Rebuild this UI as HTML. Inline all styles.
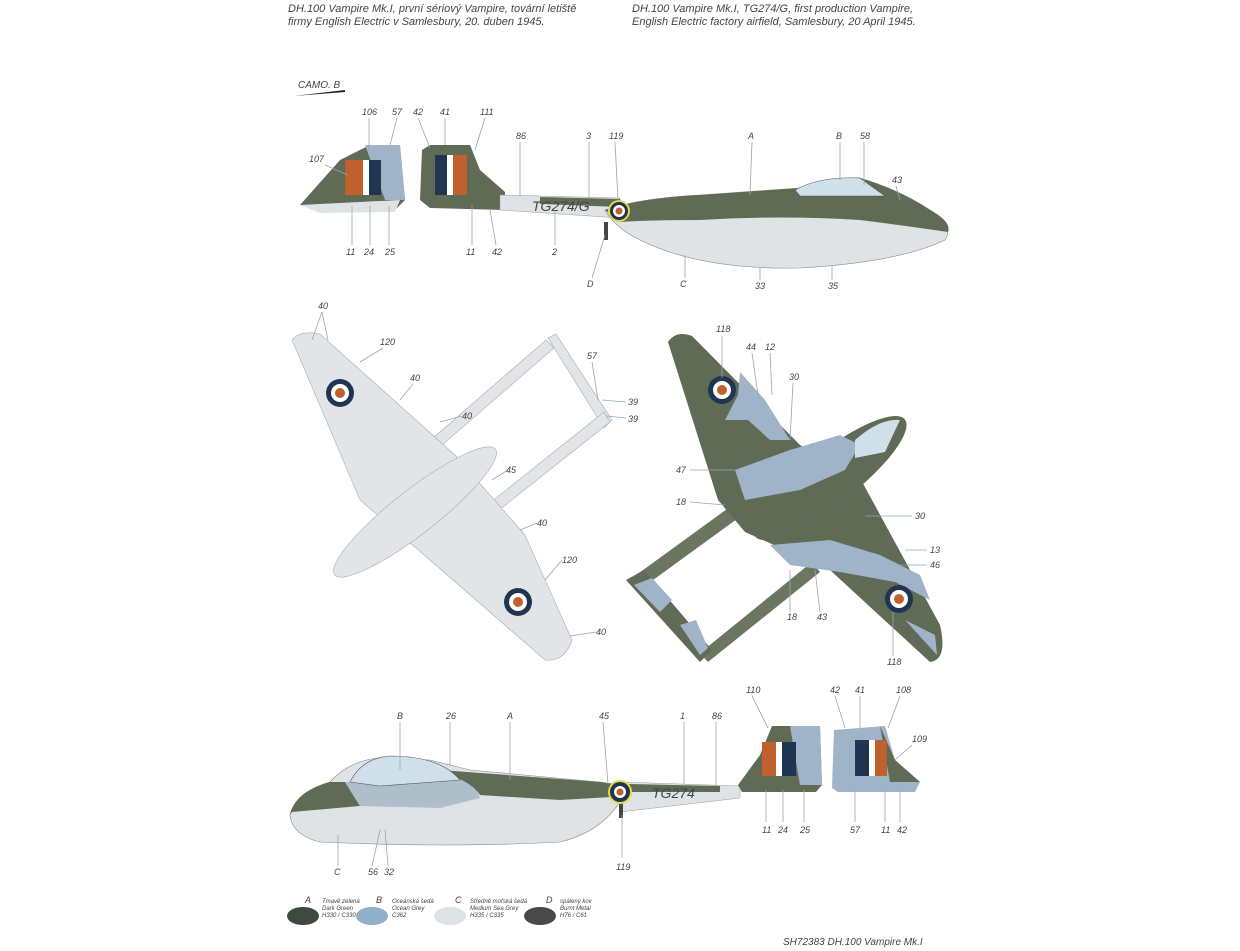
<!DOCTYPE html>
<html><head><meta charset="utf-8"><style>
body{margin:0;background:#fff;width:1240px;height:951px;overflow:hidden}
svg{display:block}
text{font-family:"Liberation Sans",sans-serif;font-style:italic;fill:#444}
.n{font-size:9px}
.l line,.l path{stroke:#8fa8b8;stroke-width:0.8;fill:none}
</style></head><body>
<svg width="1240" height="951" viewBox="0 0 1240 951">
<text x="288" y="12" font-size="11">DH.100 Vampire Mk.I, první sériový Vampire, tovární letiště</text>
<text x="288" y="25" font-size="11">firmy English Electric v Samlesbury, 20. duben 1945.</text>
<text x="632" y="12" font-size="11">DH.100 Vampire Mk.I, TG274/G, first production Vampire,</text>
<text x="632" y="25" font-size="11">English Electric factory airfield, Samlesbury, 20 April 1945.</text>
<text x="298" y="88" font-size="10">CAMO. B</text>
<path d="M294 96 L345 90 L345 92 Z" fill="#222"/>

<!-- Top side view -->
<g>
<path d="M300 205 L340 160 L370 145 L400 145 L405 200 L395 210 L320 212 Z" fill="#5f6b55"/>
<path d="M365 145 L400 145 L405 200 L385 200 Z" fill="#9fb4c8"/>
<path d="M300 205 L400 200 L395 212 L320 213 Z" fill="#dfe3e6"/>
<rect x="345" y="160" width="18" height="35" fill="#c0602e"/><rect x="363" y="160" width="6" height="35" fill="#fff"/><rect x="369" y="160" width="12" height="35" fill="#1f3550"/>
<path d="M420 200 L422 150 L430 145 L470 145 L480 170 L505 192 L505 210 L430 208 Z" fill="#5f6b55"/>
<rect x="435" y="155" width="12" height="40" fill="#1f3550"/><rect x="447" y="155" width="6" height="40" fill="#fff"/><rect x="453" y="155" width="14" height="40" fill="#c0602e"/>
<path d="M500 195 L620 198 L620 218 L500 210 Z" fill="#dfe3e6" stroke="#999" stroke-width="0.5"/>
<path d="M540 197 L620 199 L620 207 L540 204 Z" fill="#5f6b55"/>
<text x="532" y="211" font-size="14" font-style="normal" fill="#333">TG274/G</text>
<path d="M605 210 Q640 198 700 195 L800 188 Q820 178 860 178 Q900 190 930 210 Q955 225 945 240 Q900 262 800 268 Q700 270 640 240 Q615 228 605 210 Z" fill="#dfe3e6" stroke="#888" stroke-width="0.6"/>
<path d="M605 210 Q640 198 700 195 L800 188 Q820 178 860 178 Q900 190 930 210 Q952 222 948 232 Q900 225 860 220 Q780 215 700 220 Q650 220 620 222 Z" fill="#5f6b55"/>
<path d="M795 190 Q820 176 860 178 L885 196 L800 196 Z" fill="#cfe0ea" stroke="#555" stroke-width="0.6"/>
<rect x="604" y="222" width="4" height="18" fill="#444"/>
<circle cx="619" cy="211" r="11" fill="#e6d84a"/><circle cx="619" cy="211" r="9" fill="#1f3550"/><circle cx="619" cy="211" r="6" fill="#fff"/><circle cx="619" cy="211" r="3.5" fill="#c0602e"/>
</g>
<g class="l">
<line x1="369" y1="118" x2="369" y2="150"/><line x1="397" y1="118" x2="390" y2="145"/><line x1="418" y1="118" x2="430" y2="148"/><line x1="445" y1="118" x2="445" y2="145"/><line x1="485" y1="118" x2="475" y2="150"/>
<line x1="520" y1="142" x2="520" y2="196"/><line x1="589" y1="142" x2="589" y2="198"/><line x1="615" y1="142" x2="618" y2="200"/><line x1="752" y1="142" x2="750" y2="195"/><line x1="840" y1="142" x2="840" y2="180"/><line x1="864" y1="142" x2="864" y2="185"/><line x1="896" y1="186" x2="900" y2="200"/>
<line x1="325" y1="165" x2="348" y2="175"/>
<line x1="352" y1="206" x2="352" y2="245"/><line x1="370" y1="206" x2="370" y2="245"/><line x1="389" y1="206" x2="389" y2="245"/><line x1="472" y1="205" x2="472" y2="245"/><line x1="490" y1="210" x2="496" y2="245"/><line x1="555" y1="212" x2="555" y2="245"/>
<line x1="605" y1="235" x2="592" y2="278"/><line x1="685" y1="255" x2="685" y2="278"/><line x1="760" y1="268" x2="760" y2="280"/><line x1="832" y1="266" x2="832" y2="280"/>
</g>
<g class="n">
<text x="362" y="115">106</text><text x="392" y="115">57</text><text x="413" y="115">42</text><text x="440" y="115">41</text><text x="480" y="115">111</text>
<text x="516" y="139">86</text><text x="586" y="139">3</text><text x="609" y="139">119</text><text x="748" y="139">A</text><text x="836" y="139">B</text><text x="860" y="139">58</text><text x="892" y="183">43</text>
<text x="309" y="162">107</text>
<text x="346" y="255">11</text><text x="364" y="255">24</text><text x="385" y="255">25</text><text x="466" y="255">11</text><text x="492" y="255">42</text><text x="552" y="255">2</text>
<text x="587" y="287">D</text><text x="680" y="287">C</text><text x="755" y="289">33</text><text x="828" y="289">35</text>
</g>

<!-- underside plan view (left) -->
<g fill="#e2e5e7" stroke="#aab" stroke-width="0.6">
<path d="M548 338 L556 334 L612 420 L604 428 Z"/>
<path d="M396 470 L546 340 L554 348 L404 478 Z"/>
<path d="M456 530 L604 412 L610 422 L464 538 Z"/>
<path d="M292 340 Q300 330 320 334 L455 455 L525 535 L572 640 Q565 662 545 660 L430 560 L360 500 Z"/>
<ellipse cx="415" cy="512" rx="102" ry="22" transform="rotate(-38 415 512)"/>
</g>
<circle cx="340" cy="393" r="14" fill="#1f3550"/><circle cx="340" cy="393" r="9" fill="#fff"/><circle cx="340" cy="393" r="5" fill="#c0602e"/>
<circle cx="518" cy="602" r="14" fill="#1f3550"/><circle cx="518" cy="602" r="9" fill="#fff"/><circle cx="518" cy="602" r="5" fill="#c0602e"/>
<g class="l">
<line x1="322" y1="312" x2="312" y2="340"/><line x1="322" y1="312" x2="328" y2="340"/><line x1="383" y1="348" x2="360" y2="362"/><line x1="413" y1="384" x2="400" y2="400"/><line x1="462" y1="416" x2="440" y2="422"/>
<line x1="508" y1="470" x2="492" y2="480"/><line x1="537" y1="523" x2="520" y2="530"/><line x1="562" y1="560" x2="545" y2="580"/><line x1="596" y1="632" x2="570" y2="636"/>
<line x1="592" y1="362" x2="598" y2="400"/><line x1="626" y1="402" x2="602" y2="400"/><line x1="626" y1="418" x2="606" y2="416"/>
</g>
<g class="n">
<text x="318" y="309">40</text><text x="380" y="345">120</text><text x="410" y="381">40</text><text x="462" y="419">40</text><text x="506" y="473">45</text><text x="537" y="526">40</text><text x="562" y="563">120</text><text x="596" y="635">40</text>
<text x="587" y="359">57</text><text x="628" y="405">39</text><text x="628" y="422">39</text>
</g>

<!-- top plan view (right) -->
<g>
<path d="M632 578 L760 485 L770 495 L642 588 Z" fill="#6a7660"/>
<path d="M700 653 L812 562 L820 572 L708 662 Z" fill="#6a7660"/>
<path d="M626 580 L644 570 L712 650 L700 662 Z" fill="#5f6b55"/>
<path d="M634 585 L652 578 L672 600 L660 612 Z M680 625 L696 620 L708 648 L700 655 Z" fill="#9fb4c8"/>
<path d="M668 342 Q676 330 692 336 L800 445 L860 478 L940 625 Q948 660 930 662 L830 570 L745 532 L718 500 Z" fill="#5f6b55"/>
<ellipse cx="830" cy="478" rx="95" ry="26" transform="rotate(-38 830 478)" fill="#5f6b55"/>
<path d="M740 372 L765 400 L790 440 L770 440 L748 420 L725 420 L738 395 Z" fill="#9fb4c8"/>
<path d="M735 470 L790 450 L840 435 L860 445 L845 470 L800 490 L745 500 Z" fill="#9fb4c8"/>
<path d="M770 545 L830 540 L880 555 L920 575 L930 600 L895 582 L840 572 L790 565 Z" fill="#9fb4c8"/>
<path d="M905 620 L935 635 L937 655 Z" fill="#9fb4c8"/>
<path d="M855 440 Q880 418 900 420 L885 452 L855 458 Z" fill="#cfe0ea"/>
<circle cx="722" cy="390" r="14" fill="#1f3550"/><circle cx="722" cy="390" r="9" fill="#fff"/><circle cx="722" cy="390" r="5" fill="#c0602e"/>
<circle cx="899" cy="599" r="14" fill="#1f3550"/><circle cx="899" cy="599" r="9" fill="#fff"/><circle cx="899" cy="599" r="5" fill="#c0602e"/>
</g>
<g class="l">
<line x1="722" y1="336" x2="722" y2="378"/><line x1="752" y1="353" x2="758" y2="395"/><line x1="770" y1="353" x2="772" y2="395"/><line x1="793" y1="383" x2="790" y2="440"/>
<line x1="690" y1="470" x2="735" y2="470"/><line x1="690" y1="502" x2="725" y2="505"/><line x1="912" y1="516" x2="865" y2="516"/><line x1="927" y1="550" x2="905" y2="550"/><line x1="927" y1="565" x2="900" y2="565"/>
<line x1="790" y1="612" x2="790" y2="570"/><line x1="820" y1="612" x2="815" y2="570"/><line x1="893" y1="656" x2="893" y2="612"/>
</g>
<g class="n">
<text x="716" y="332">118</text><text x="746" y="350">44</text><text x="765" y="350">12</text><text x="789" y="380">30</text>
<text x="676" y="473">47</text><text x="676" y="505">18</text><text x="915" y="519">30</text><text x="930" y="553">13</text><text x="930" y="568">46</text>
<text x="787" y="620">18</text><text x="817" y="620">43</text><text x="887" y="665">118</text>
</g>

<!-- bottom side view -->
<g>
<path d="M620 782 L740 786 L740 798 L620 812 Z" fill="#dfe3e6" stroke="#999" stroke-width="0.5"/>
<path d="M290 815 Q295 792 330 782 Q350 760 380 758 L430 760 L470 770 L600 782 L628 786 Q610 830 560 842 Q450 848 320 842 Q292 835 290 815 Z" fill="#dfe3e6" stroke="#888" stroke-width="0.6"/>
<path d="M290 815 Q295 792 330 782 L345 782 L360 806 L292 812 Z" fill="#5f6b55"/>
<path d="M345 782 L470 775 L480 798 L440 808 L360 806 Z" fill="#aebfca"/>
<path d="M440 770 L600 782 L628 786 L628 796 L560 800 L480 795 Q470 780 440 772 Z" fill="#5f6b55"/>
<path d="M350 782 Q362 758 390 756 Q440 756 460 780 L380 786 Z" fill="#cfe0ea" stroke="#555" stroke-width="0.6"/>
<path d="M628 784 L720 786 L720 792 L628 792 Z" fill="#5f6b55"/>
<text x="652" y="798" font-size="14" font-style="normal" fill="#333">TG274</text>
<rect x="619" y="800" width="4" height="18" fill="#444"/>
<path d="M738 785 L760 755 L772 726 L820 726 L822 785 L816 792 L742 792 Z" fill="#5f6b55"/>
<path d="M790 726 L820 726 L822 785 L800 785 Z" fill="#9fb4c8"/>
<rect x="762" y="742" width="14" height="34" fill="#c0602e"/><rect x="776" y="742" width="6" height="34" fill="#fff"/><rect x="782" y="742" width="14" height="34" fill="#1f3550"/>
<path d="M832 788 L834 730 L885 726 L895 760 L920 782 L915 792 L838 792 Z" fill="#9fb4c8"/>
<path d="M880 726 L895 760 L920 782 L890 782 Z" fill="#5f6b55"/>
<rect x="855" y="740" width="14" height="36" fill="#1f3550"/><rect x="869" y="740" width="6" height="36" fill="#fff"/><rect x="875" y="740" width="12" height="36" fill="#c0602e"/>
<circle cx="620" cy="792" r="12" fill="#e6d84a"/><circle cx="620" cy="792" r="10" fill="#1f3550"/><circle cx="620" cy="792" r="6" fill="#fff"/><circle cx="620" cy="792" r="3.5" fill="#c0602e"/>
</g>
<g class="l">
<line x1="400" y1="722" x2="400" y2="770"/><line x1="450" y1="722" x2="450" y2="765"/><line x1="510" y1="722" x2="510" y2="780"/><line x1="603" y1="722" x2="608" y2="784"/><line x1="684" y1="722" x2="684" y2="786"/><line x1="716" y1="722" x2="716" y2="786"/>
<line x1="752" y1="696" x2="768" y2="728"/><line x1="835" y1="696" x2="845" y2="728"/><line x1="860" y1="696" x2="860" y2="728"/><line x1="900" y1="696" x2="888" y2="728"/><line x1="912" y1="745" x2="895" y2="760"/>
<line x1="766" y1="790" x2="766" y2="822"/><line x1="783" y1="790" x2="783" y2="822"/><line x1="804" y1="790" x2="804" y2="822"/><line x1="855" y1="790" x2="855" y2="822"/><line x1="885" y1="790" x2="885" y2="822"/><line x1="900" y1="790" x2="900" y2="822"/>
<line x1="338" y1="866" x2="338" y2="835"/><line x1="372" y1="866" x2="380" y2="830"/><line x1="388" y1="866" x2="385" y2="830"/><line x1="622" y1="858" x2="622" y2="815"/>
</g>
<g class="n">
<text x="397" y="719">B</text><text x="446" y="719">26</text><text x="507" y="719">A</text><text x="599" y="719">45</text><text x="680" y="719">1</text><text x="712" y="719">86</text>
<text x="746" y="693">110</text><text x="830" y="693">42</text><text x="855" y="693">41</text><text x="896" y="693">108</text><text x="912" y="742">109</text>
<text x="762" y="833">11</text><text x="778" y="833">24</text><text x="800" y="833">25</text><text x="850" y="833">57</text><text x="881" y="833">11</text><text x="897" y="833">42</text>
<text x="334" y="875">C</text><text x="368" y="875">56</text><text x="384" y="875">32</text><text x="616" y="870">119</text>
</g>

<!-- legend -->
<g font-size="6">
<text x="305" y="903" font-size="9">A</text><text x="322" y="903">Tmavě zelená</text><text x="322" y="910">Dark Green</text><text x="322" y="917">H330 / C330</text>
<ellipse cx="303" cy="916" rx="16" ry="9" fill="#3e4a40"/>
<text x="376" y="903" font-size="9">B</text><text x="392" y="903">Oceánská šedá</text><text x="392" y="910">Ocean Grey</text><text x="392" y="917">C362</text>
<ellipse cx="372" cy="916" rx="16" ry="9" fill="#8fb0c8"/>
<text x="455" y="903" font-size="9">C</text><text x="470" y="903">Středně mořská šedá</text><text x="470" y="910">Medium Sea Grey</text><text x="470" y="917">H335 / C335</text>
<ellipse cx="450" cy="916" rx="16" ry="9" fill="#dde2e4"/>
<text x="546" y="903" font-size="9">D</text><text x="560" y="903">spálený kov</text><text x="560" y="910">Burnt Metal</text><text x="560" y="917">H76 / C61</text>
<ellipse cx="540" cy="916" rx="16" ry="9" fill="#484a4a"/>
</g>
<text x="783" y="945" font-size="10">SH72383 DH.100 Vampire Mk.I</text>
</svg>
</body></html>
